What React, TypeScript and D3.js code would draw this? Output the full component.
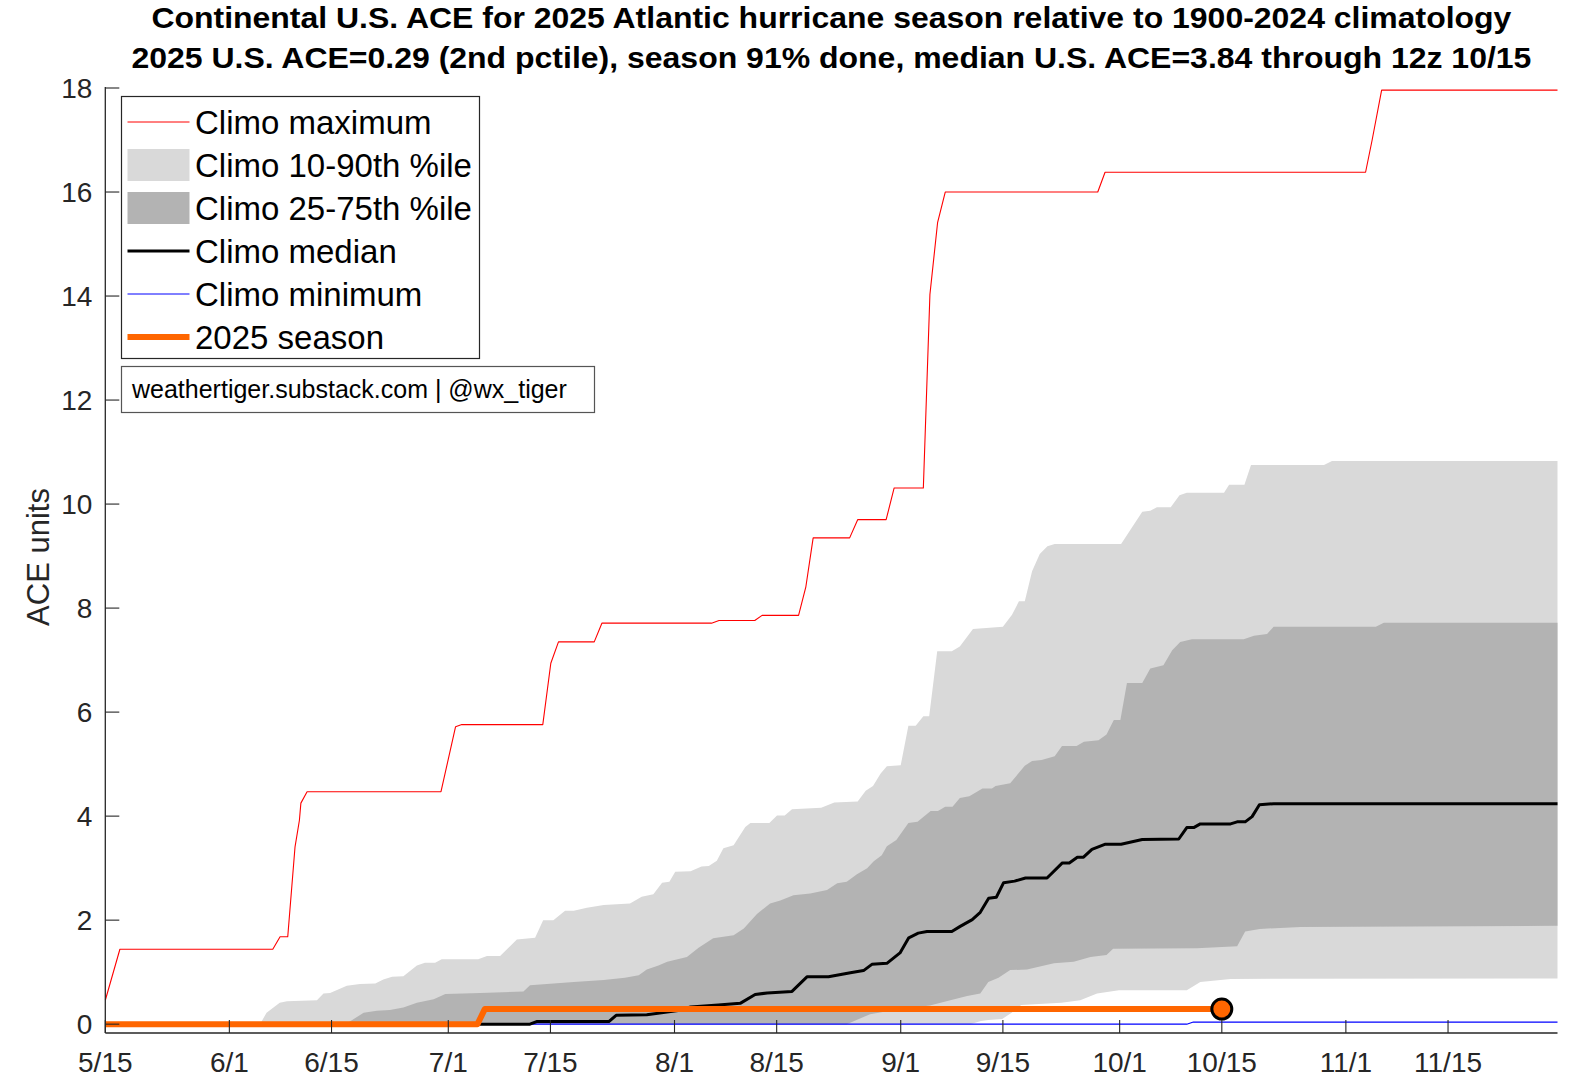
import React, { useEffect, useRef } from 'react';
import * as d3 from 'd3';

// x = days after 5/15 (fractions = part of a day), y = ACE units
const climoMax: [number, number][] = [
  [0, 0.46], [2.0, 1.44], [22.95, 1.44], [23.95, 1.68], [25.0, 1.68], [26.0, 3.41], [26.6, 3.92],
  [26.8, 4.25], [27.65, 4.47], [46.0, 4.47], [48.0, 5.72], [48.85, 5.76], [59.95, 5.76], [61.05, 6.94],
  [62.1, 7.35], [67.0, 7.35], [68.05, 7.71], [83.07, 7.71], [84.1, 7.76], [89.0, 7.76], [90.0, 7.86],
  [95.0, 7.86], [96.0, 8.41], [97.0, 9.35], [102.0, 9.35], [103.1, 9.7], [107.0, 9.7], [108.1, 10.31],
  [112.1, 10.31], [113.0, 14.03], [114.05, 15.41], [115.1, 16.0], [136.0, 16.0], [137.0, 16.38],
  [172.7, 16.38], [173.6, 17.0], [174.9, 17.96], [199, 17.96],
];

const climoP90: [number, number][] = [
  [0, 0], [21.2, 0], [22.1, 0.22], [23.9, 0.41], [24.9, 0.44], [29.0, 0.46], [29.9, 0.59], [30.8, 0.6],
  [33.1, 0.74], [34.9, 0.77], [37.0, 0.78], [38.1, 0.86], [39.3, 0.91], [40.85, 0.92], [42.7, 1.13],
  [43.8, 1.18], [45.2, 1.18], [46.1, 1.25], [51.1, 1.25], [52.3, 1.31], [54.1, 1.31], [56.4, 1.63],
  [58.9, 1.66], [60.0, 2.0], [61.4, 2.0], [63.0, 2.18], [64.2, 2.18], [66.0, 2.24], [68.3, 2.29],
  [71.9, 2.32], [73.5, 2.45], [75.1, 2.5], [76.3, 2.72], [77.3, 2.74], [78.1, 2.93], [80.2, 2.94],
  [81.7, 3.03], [82.7, 3.04], [83.8, 3.14], [84.7, 3.38], [86.1, 3.44], [87.7, 3.79], [88.4, 3.87],
  [91.0, 3.87], [92.05, 4.01], [93.1, 4.01], [94.1, 4.13], [98.1, 4.16], [99.9, 4.26], [103.1, 4.28],
  [104.2, 4.49], [105.2, 4.58], [106.25, 4.82], [107.1, 4.96], [109.0, 4.98], [110.05, 5.74],
  [111.05, 5.74], [112.1, 5.92], [112.9, 5.92], [114.0, 7.17], [116.0, 7.17], [117.1, 7.26],
  [118.9, 7.6], [123.0, 7.64], [124.25, 7.87], [125.2, 8.13], [126.0, 8.13], [127.0, 8.71],
  [128.05, 9.04], [129.1, 9.19], [130.1, 9.23], [139.2, 9.23], [142.1, 9.85], [143.2, 9.87],
  [144.1, 9.94], [146.0, 9.94], [147.2, 10.17], [148.2, 10.22], [153.3, 10.22], [154.0, 10.37],
  [156.1, 10.37], [157.0, 10.75], [167.0, 10.75], [168.1, 10.83], [199, 10.83],
];

const climoP75: [number, number][] = [
  [0, 0], [32.9, 0], [33.4, 0.04], [35.4, 0.22], [37.2, 0.26], [39.0, 0.27], [40.85, 0.32], [42.7, 0.41],
  [45.0, 0.48], [46.6, 0.58], [51.4, 0.6], [57.3, 0.63], [58.2, 0.75], [64.2, 0.81], [68.3, 0.85],
  [71.2, 0.89], [73.1, 0.94], [74.2, 1.05], [75.8, 1.13], [77.0, 1.2], [79.7, 1.29], [81.3, 1.47],
  [83.3, 1.65], [86.1, 1.71], [87.5, 1.84], [89.3, 2.12], [91.1, 2.32], [92.5, 2.38], [94.3, 2.48],
  [96.6, 2.51], [98.9, 2.58], [100.3, 2.71], [101.6, 2.74], [103.0, 2.88], [104.4, 3.0], [105.3, 3.13],
  [106.4, 3.25], [107.1, 3.42], [108.4, 3.54], [110.05, 3.87], [111.3, 3.89], [113.1, 4.1],
  [114.1, 4.1], [115.1, 4.18], [116.1, 4.18], [117.1, 4.35], [118.4, 4.38], [120.2, 4.53],
  [121.5, 4.53], [122.0, 4.58], [124.0, 4.63], [126.0, 4.97], [127.0, 5.06], [128.3, 5.08],
  [130.1, 5.15], [131.1, 5.35], [133.1, 5.35], [134.1, 5.43], [136.1, 5.46], [137.2, 5.57],
  [138.2, 5.85], [139.1, 5.85], [140.0, 6.56], [142.1, 6.56], [143.2, 6.84], [145.0, 6.9],
  [146.2, 7.19], [147.3, 7.35], [148.9, 7.4], [156.0, 7.4], [157.4, 7.47], [159.2, 7.5], [160.1, 7.64],
  [174.1, 7.64], [175.2, 7.72], [199, 7.72],
];

const climoMedian: [number, number][] = [
  [0, 0], [58.2, 0], [59.1, 0.05], [69.0, 0.05], [70.0, 0.17], [74.2, 0.18], [78.5, 0.26], [80.2, 0.33],
  [84.0, 0.37], [87.0, 0.4], [89.05, 0.57], [90.7, 0.6], [94.1, 0.63], [96.15, 0.91], [99.1, 0.91],
  [102.1, 0.99], [103.9, 1.03], [105.05, 1.15], [107.1, 1.17], [108.9, 1.37], [110.1, 1.66],
  [111.4, 1.75], [112.6, 1.78], [116.0, 1.78], [117.15, 1.88], [118.8, 2.01], [119.9, 2.15],
  [121.05, 2.42], [122.1, 2.44], [123.1, 2.72], [124.6, 2.75], [126.1, 2.81], [129.05, 2.81],
  [131.15, 3.1], [132.1, 3.1], [133.2, 3.21], [134.05, 3.21], [135.2, 3.36], [137.05, 3.46],
  [139.2, 3.46], [142.1, 3.55], [147.1, 3.56], [148.2, 3.78], [149.15, 3.78], [150.05, 3.85],
  [154.2, 3.85], [155.1, 3.89], [156.2, 3.89], [157.15, 3.99], [158.15, 4.22], [160.1, 4.24], [199, 4.24],
];

const climoP25: [number, number][] = [
  [0, 0], [101.6, 0], [103.9, 0.14], [104.8, 0.19], [108.5, 0.28], [113.0, 0.36], [115.8, 0.46],
  [118.1, 0.54], [119.9, 0.59], [121.0, 0.81], [122.4, 0.89], [124.0, 1.04], [126.3, 1.05],
  [130.0, 1.17], [132.7, 1.2], [135.0, 1.29], [137.2, 1.33], [138.1, 1.45], [149.6, 1.46],
  [155.1, 1.5], [156.2, 1.78], [158.2, 1.83], [163.8, 1.87], [199, 1.89],
];

const climoP10: [number, number][] = [
  [0, 0], [118.5, 0], [120.0, 0.06], [121.0, 0.08], [122.9, 0.1], [124.2, 0.22], [125.5, 0.37],
  [131.0, 0.41], [133.6, 0.46], [135.9, 0.59], [138.9, 0.65], [148.2, 0.65], [150.05, 0.81],
  [154.2, 0.87], [199, 0.88],
];

const climoMin: [number, number][] = [[0, 0], [148.2, 0], [149.1, 0.04], [199, 0.04]];

const season2025: [number, number][] = [[0, 0], [51.0, 0], [52.0, 0.29], [153.0, 0.29]];

const xTickLabels = ['5/15', '6/1', '6/15', '7/1', '7/15', '8/1', '8/15', '9/1', '9/15', '10/1', '10/15', '11/1', '11/15'];
const yTickValues = [0, 2, 4, 6, 8, 10, 12, 14, 16, 18];

const titleLines = [
  'Continental U.S. ACE for 2025 Atlantic hurricane season relative to 1900-2024 climatology',
  '2025 U.S. ACE=0.29 (2nd pctile), season 91% done, median U.S. ACE=3.84 through 12z 10/15',
];
const titleWidths = [1360, 1400];

const legendItems = [
  { label: 'Climo maximum', kind: 'line', color: '#ff0000', width: 1 },
  { label: 'Climo 10-90th %ile', kind: 'patch', color: '#d9d9d9', width: 0 },
  { label: 'Climo 25-75th %ile', kind: 'patch', color: '#b3b3b3', width: 0 },
  { label: 'Climo median', kind: 'line', color: '#000000', width: 3 },
  { label: 'Climo minimum', kind: 'line', color: '#0000ff', width: 1 },
  { label: '2025 season', kind: 'line', color: '#ff6600', width: 6 },
];

const FONT = '"Liberation Sans", Arial, Helvetica, sans-serif';
const W = 1571;
const H = 1081;

function dayOf(label: string) {
  const [m, d] = label.split('/').map(Number);
  return d3.timeDay.count(new Date(2025, 4, 15), new Date(2025, m - 1, d));
}

function AceChart() {
  const svgRef = useRef<SVGSVGElement>(null);

  useEffect(() => {
    const svg = d3.select(svgRef.current);
    svg.selectAll('*').remove();

    const left = 105.3;
    const right = 1557.5;
    const top = 88;
    const bottom = 1033;

    const x = d3.scaleLinear().domain([0, 199]).range([left, right]);
    const y = d3.scaleLinear().domain([-0.17, 18]).range([bottom, top]);

    const line = d3
      .line<[number, number]>()
      .x(d => x(d[0]))
      .y(d => y(d[1]));

    // bands: upper edge then lower edge reversed
    svg
      .append('path')
      .attr('d', line([...climoP90, ...climoP10.slice().reverse()]) + 'Z')
      .attr('fill', '#d9d9d9');
    svg
      .append('path')
      .attr('d', line([...climoP75, ...climoP25.slice().reverse()]) + 'Z')
      .attr('fill', '#b3b3b3');

    const drawLine = (data: [number, number][], color: string, width: number) =>
      svg
        .append('path')
        .attr('d', line(data))
        .attr('fill', 'none')
        .attr('stroke', color)
        .attr('stroke-width', width)
        .attr('stroke-linejoin', 'round');

    drawLine(climoMax, '#ff0000', 1.1);
    drawLine(climoMin, '#0000ff', 1.1);
    drawLine(climoMedian, '#000000', 3);
    drawLine(season2025, '#ff6600', 6);

    const last = season2025[season2025.length - 1];
    svg
      .append('circle')
      .attr('cx', x(last[0]))
      .attr('cy', y(last[1]))
      .attr('r', 10)
      .attr('fill', '#ff6600')
      .attr('stroke', '#000')
      .attr('stroke-width', 3);

    // axes
    const axisColor = '#262626';
    const g = svg.append('g');
    g.append('line')
      .attr('x1', left).attr('x2', left).attr('y1', top - 1).attr('y2', bottom)
      .attr('stroke', axisColor).attr('stroke-width', 1.3);
    g.append('line')
      .attr('x1', left).attr('x2', right).attr('y1', bottom).attr('y2', bottom)
      .attr('stroke', axisColor).attr('stroke-width', 1.3);

    yTickValues.forEach(v => {
      g.append('line')
        .attr('x1', left).attr('x2', left + 14).attr('y1', y(v)).attr('y2', y(v))
        .attr('stroke', axisColor).attr('stroke-width', 1.1);
      g.append('text')
        .attr('x', left - 13)
        .attr('y', y(v))
        .attr('dy', '0.35em')
        .attr('text-anchor', 'end')
        .attr('font-family', FONT)
        .attr('font-size', 28)
        .attr('fill', axisColor)
        .text(v);
    });

    xTickLabels.forEach(lab => {
      const px = x(dayOf(lab));
      g.append('line')
        .attr('x1', px).attr('x2', px).attr('y1', bottom).attr('y2', bottom - 13)
        .attr('stroke', axisColor).attr('stroke-width', 1.1);
      g.append('text')
        .attr('x', px)
        .attr('y', 1072)
        .attr('text-anchor', 'middle')
        .attr('font-family', FONT)
        .attr('font-size', 28)
        .attr('fill', axisColor)
        .text(lab);
    });

    svg
      .append('text')
      .attr('transform', `translate(49, 557) rotate(-90)`)
      .attr('text-anchor', 'middle')
      .attr('font-family', FONT)
      .attr('font-size', 31)
      .attr('fill', axisColor)
      .text('ACE units');

    // title
    titleLines.forEach((t, i) => {
      svg
        .append('text')
        .attr('x', (left + right) / 2)
        .attr('y', 28 + i * 40)
        .attr('text-anchor', 'middle')
        .attr('font-family', FONT)
        .attr('font-weight', 'bold')
        .attr('font-size', 30)
        .attr('textLength', titleWidths[i])
        .attr('lengthAdjust', 'spacingAndGlyphs')
        .attr('fill', '#000')
        .text(t);
    });

    // legend
    const lg = svg.append('g');
    lg.append('rect')
      .attr('x', 121.5).attr('y', 96.5).attr('width', 358).attr('height', 262)
      .attr('fill', '#fff').attr('stroke', axisColor).attr('stroke-width', 1.2);
    legendItems.forEach((it, i) => {
      const cy = 122 + i * 43;
      if (it.kind === 'patch') {
        lg.append('rect')
          .attr('x', 127.5).attr('y', cy - 16).attr('width', 62).attr('height', 32)
          .attr('fill', it.color);
      } else {
        lg.append('line')
          .attr('x1', 127.5).attr('x2', 189.5).attr('y1', cy).attr('y2', cy)
          .attr('stroke', it.color).attr('stroke-width', it.width);
      }
      lg.append('text')
        .attr('x', 195)
        .attr('y', cy + 11.5)
        .attr('font-family', FONT)
        .attr('font-size', 33)
        .attr('fill', '#000')
        .text(it.label);
    });

    // credit box
    lg.append('rect')
      .attr('x', 121.5).attr('y', 366.5).attr('width', 473).attr('height', 46)
      .attr('fill', '#fff').attr('stroke', '#555').attr('stroke-width', 1.2);
    lg.append('text')
      .attr('x', 132)
      .attr('y', 398)
      .attr('font-family', FONT)
      .attr('font-size', 25)
      .attr('fill', '#000')
      .text('weathertiger.substack.com | @wx_tiger');
  }, []);

  return <svg ref={svgRef} width={W} height={H} style={{ display: 'block', background: '#fff' }} />;
}

export default function App() {
  return (
    <div style={{ position: 'absolute', left: 0, top: 0, width: W, height: H, background: '#fff' }}>
      <AceChart />
    </div>
  );
}
